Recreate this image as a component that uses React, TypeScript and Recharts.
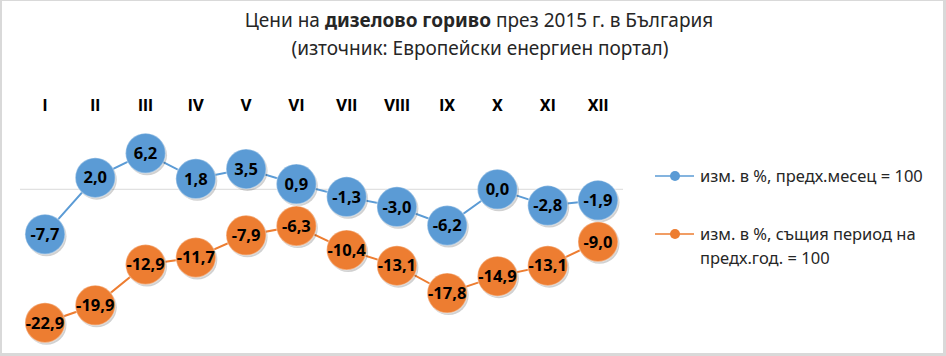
import React from 'react';
import { LineChart, Line, XAxis, YAxis, ReferenceLine, LabelList } from 'recharts';

// --- data ---
const months = ['I', 'II', 'III', 'IV', 'V', 'VI', 'VII', 'VIII', 'IX', 'X', 'XI', 'XII'];
const prevMonth = [-7.7, 2.0, 6.2, 1.8, 3.5, 0.9, -1.3, -3.0, -6.2, 0.0, -2.8, -1.9];
const prevYear = [-22.9, -19.9, -12.9, -11.7, -7.9, -6.3, -10.4, -13.1, -17.8, -14.9, -13.1, -9.0];

const SERIES_NAMES = ['изм. в %, предх.месец = 100', 'изм. в %, същия период на предх.год. = 100'];
const BLUE = '#5B9BD5';
const ORANGE = '#ED7D31';
const FONT = '"Noto Sans", "Open Sans", sans-serif';

const data = months.map((m, i) => ({ month: m, mom: prevMonth[i], yoy: prevYear[i] }));

const fmt = (v: number) => v.toFixed(1).replace('.', ',');

const BigDot = (color: string) => (props: any) => {
  const { cx, cy, index } = props;
  if (cx == null || cy == null) return null;
  return (
    <g key={`dot-${color}-${index}`}>
      <circle cx={cx + 1.5} cy={cy + 2} r={20} fill="rgba(0,0,0,0.18)" />
      <circle cx={cx} cy={cy} r={20} fill={color} stroke="rgba(255,255,255,0.35)" strokeWidth={1.5} />
    </g>
  );
};

// month labels sit above the plot
const MonthTick = (props: any) => {
  const { x, y, payload } = props;
  return (
    <g>
      <text x={x} y={y} textAnchor="middle" fill="#000"
        style={{ fontFamily: 'Roboto, "Noto Sans", sans-serif', fontSize: 17, fontWeight: 700 }}>
        {payload.value}
      </text>
    </g>
  );
};

const labelStyle = { fill: '#000', fontSize: 16.5, fontWeight: 'bold', fontFamily: FONT };

export default function App() {
  return (
    <div style={{ position: 'absolute', left: 0, top: 0, width: 946, height: 356, background: '#d9d9d9', fontFamily: FONT }}>
      <div style={{ position: 'absolute', left: 2, top: 1, width: 941, height: 352, background: '#fff' }} />
      <div style={{ position: 'absolute', left: 0, top: 7, width: 958, textAlign: 'center', fontSize: 19, color: '#262626' }}>
        Цени на <b>дизелово гориво</b> през 2015 г. в България
      </div>
      <div style={{ position: 'absolute', left: 0, top: 35, width: 960, textAlign: 'center', fontSize: 19, color: '#262626' }}>
        (източник: Европейски енергиен портал)
      </div>
      <div style={{ position: 'absolute', left: 0, top: 0 }}>
        <LineChart width={946} height={356} data={data} margin={{ top: 101, right: 323, left: 20, bottom: 21 }}>
          <XAxis
            dataKey="month"
            orientation="top"
            height={30}
            axisLine={false}
            tickLine={false}
            tickSize={0}
            tickMargin={20}
            interval={0}
            padding={{ left: 25, right: 25 }}
            tick={MonthTick}
          />
          <YAxis hide domain={[-25, 10]} />
          <ReferenceLine y={0} stroke="#d9d9d9" strokeWidth={1} />
          <Line dataKey="mom" stroke={BLUE} strokeWidth={2} dot={BigDot(BLUE)} isAnimationActive={false}>
            <LabelList dataKey="mom" position="center" formatter={(v: any) => fmt(Number(v))} style={labelStyle} />
          </Line>
          <Line dataKey="yoy" stroke={ORANGE} strokeWidth={2} dot={BigDot(ORANGE)} isAnimationActive={false}>
            <LabelList dataKey="yoy" position="center" formatter={(v: any) => fmt(Number(v))} style={labelStyle} />
          </Line>
        </LineChart>
      </div>
      <div style={{ position: 'absolute', left: 655, top: 164, width: 290, fontSize: 16.5, color: '#262626', lineHeight: '24px' }}>
        {[BLUE, ORANGE].map((c, i) => (
          <div key={i} style={{ display: 'flex', alignItems: 'flex-start', marginBottom: 34 }}>
            <svg width={40} height={24} style={{ flex: 'none' }}>
              <line x1={0} y1={12} x2={39} y2={12} stroke={c} strokeWidth={1.5} />
              <circle cx={20} cy={12} r={5} fill={c} />
            </svg>
            <span style={{ width: 225, marginLeft: 5 }}>{SERIES_NAMES[i]}</span>
          </div>
        ))}
      </div>
    </div>
  );
}
